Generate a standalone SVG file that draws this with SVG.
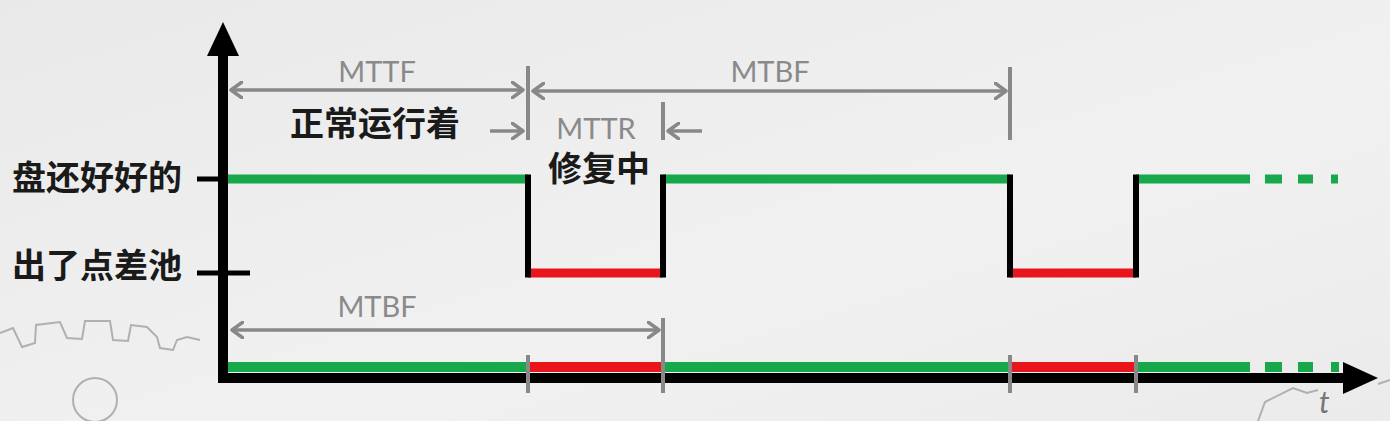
<svg xmlns="http://www.w3.org/2000/svg" width="1390" height="421" viewBox="0 0 1390 421">
<defs>
<linearGradient id="bg" x1="0" y1="0" x2="1" y2="1">
<stop offset="0" stop-color="#e9e9e9"/>
<stop offset="0.6" stop-color="#f1f1f1"/>
<stop offset="1" stop-color="#ebebeb"/>
</linearGradient>
<marker id="chev" viewBox="0 0 14 18" refX="12" refY="9" markerWidth="14" markerHeight="18" markerUnits="userSpaceOnUse" orient="auto-start-reverse">
<path d="M1,1 L12,9 L1,17" fill="none" stroke="#888" stroke-width="3.5" stroke-linecap="round" stroke-linejoin="round"/>
</marker>
<style>
.dim{stroke:#888;stroke-width:3.5;fill:none}
.tick{stroke:#888;stroke-width:4;fill:none}
.lbl{font-family:Lato,"Open Sans","Liberation Sans",sans-serif;font-size:29px;fill:#8a8a8a}
.cn{font-family:"Noto Sans CJK SC","Noto Sans",sans-serif;font-weight:bold;font-size:34px;fill:#1a1a1a}
.green{stroke:#16a84b;stroke-width:9;fill:none}
.red{stroke:#e8151b;stroke-width:9;fill:none}
.blk{stroke:#000;stroke-width:6;fill:none}
.gear{stroke:#b0b0b0;stroke-width:2;fill:none}
</style>
</defs>
<rect width="1390" height="421" fill="url(#bg)"/>
<!-- background gear decoration -->
<g id="decor">
<polyline class="gear" points="0,333 13,328 22,347 35,343 36,325 60,322 67,338 82,339 85,321 110,321 113,340 128,341 131,325 147,327 157,337 160,348 173,350 177,340 187,337 200,340"/>
<circle class="gear" cx="95" cy="400" r="22"/>
<polyline class="gear" points="1258,421 1265,402 1293,388 1307,393 1318,390"/>
<polyline class="gear" points="1378,384 1390,380"/>
</g>
<!-- axes -->
<g id="axes">
<rect x="218" y="52" width="10" height="331" fill="#000"/>
<polygon points="223,22 239,56 207,56" fill="#000"/>
<rect x="218" y="373" width="1128" height="10" fill="#000"/>
<polygon points="1343,362 1378,378 1343,394" fill="#000"/>
<line x1="197" y1="179" x2="223" y2="179" stroke="#000" stroke-width="5"/>
<line x1="197" y1="273" x2="250" y2="273" stroke="#000" stroke-width="5"/>
<text x="1319" y="413" font-family="Lato,'Liberation Sans',sans-serif" font-style="italic" font-size="30" fill="#777">t</text>
</g>
<!-- state labels -->
<g id="label-good"><text class="cn" x="12" y="190">盘还好好的</text></g>
<g id="label-bad"><text class="cn" x="12" y="278">出了点差池</text></g>
<!-- state signal -->
<g id="signal">
<line class="green" x1="228" y1="179" x2="528" y2="179"/>
<line class="red" x1="528" y1="273" x2="663" y2="273"/>
<line class="green" x1="663" y1="179" x2="1010" y2="179"/>
<line class="red" x1="1010" y1="273" x2="1136" y2="273"/>
<line class="green" x1="1136" y1="179" x2="1250" y2="179"/>
<line class="green" x1="1265" y1="179" x2="1282" y2="179"/>
<line class="green" x1="1298" y1="179" x2="1313" y2="179"/>
<line class="green" x1="1331" y1="179" x2="1338" y2="179"/>
<line class="blk" x1="528" y1="174.5" x2="528" y2="277.5"/>
<line class="blk" x1="663" y1="174.5" x2="663" y2="277.5"/>
<line class="blk" x1="1010" y1="174.5" x2="1010" y2="277.5"/>
<line class="blk" x1="1136" y1="174.5" x2="1136" y2="277.5"/>
</g>
<!-- timeline bar -->
<g id="timeline">
<rect x="228" y="362" width="302" height="10" fill="#16a84b"/>
<rect x="530" y="362" width="133" height="10" fill="#e8151b"/>
<rect x="663" y="362" width="347" height="10" fill="#16a84b"/>
<rect x="1010" y="362" width="126" height="10" fill="#e8151b"/>
<rect x="1136" y="362" width="114" height="10" fill="#16a84b"/>
<rect x="1265" y="362" width="17" height="10" fill="#16a84b"/>
<rect x="1298" y="362" width="15" height="10" fill="#16a84b"/>
<rect x="1331" y="362" width="8" height="10" fill="#16a84b"/>
</g>
<!-- dimension connectors -->
<g id="connectors">
<line class="tick" x1="528" y1="66" x2="528" y2="140"/>
<line class="tick" x1="1010" y1="67" x2="1010" y2="140"/>
<line class="tick" x1="663" y1="102" x2="663" y2="140"/>
<line class="dim" x1="231" y1="90" x2="523" y2="90" marker-start="url(#chev)" marker-end="url(#chev)"/>
<line class="dim" x1="533" y1="91" x2="1006" y2="91" marker-start="url(#chev)" marker-end="url(#chev)"/>
<line class="dim" x1="490" y1="131" x2="523" y2="131" marker-end="url(#chev)"/>
<line class="dim" x1="702" y1="131" x2="668" y2="131" marker-end="url(#chev)"/>
<line class="dim" x1="232" y1="330" x2="659" y2="330" marker-start="url(#chev)" marker-end="url(#chev)"/>
<line class="tick" x1="663" y1="318" x2="663" y2="393"/>
<line class="tick" x1="528" y1="355" x2="528" y2="393"/>
<line class="tick" x1="1010" y1="355" x2="1010" y2="393"/>
<line class="tick" x1="1136" y1="355" x2="1136" y2="393"/>
</g>
<!-- period labels -->
<g id="mttf"><text class="lbl" x="377" y="82" text-anchor="middle">MTTF</text></g>
<g id="mtbf-top"><text class="lbl" x="770" y="82" text-anchor="middle">MTBF</text></g>
<g id="mttr"><text class="lbl" x="596" y="139" text-anchor="middle">MTTR</text></g>
<g id="mtbf-bottom"><text class="lbl" x="377" y="317" text-anchor="middle">MTBF</text></g>
<g id="running"><text class="cn" x="290" y="136">正常运行着</text></g>
<g id="repairing"><text class="cn" x="548" y="181">修复中</text></g>
</svg>
